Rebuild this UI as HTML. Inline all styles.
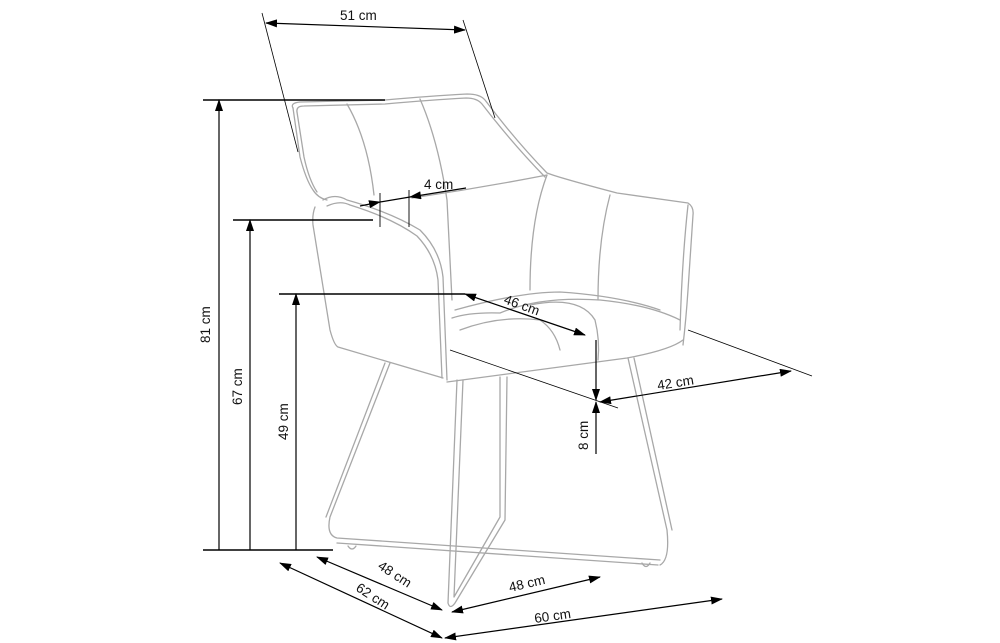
<!DOCTYPE html>
<html><head><meta charset="utf-8"><style>
html,body{margin:0;padding:0;background:#fff;}
svg{display:block;}
text{font-family:"Liberation Sans",sans-serif;font-size:13.5px;fill:#111;}
</style></head><body>
<svg width="1000" height="643" viewBox="0 0 1000 643" xmlns="http://www.w3.org/2000/svg">
<defs>
<marker id="a" markerWidth="12" markerHeight="8" refX="11" refY="4" orient="auto-start-reverse" markerUnits="userSpaceOnUse">
<path d="M0,0 L12,4 L0,8 Z" fill="#000"/></marker>
</defs>
<g fill="none" stroke="#a8a8a8" stroke-width="1.3" stroke-linecap="round" stroke-linejoin="round">
<path d="M293,108 Q290,103 300,102 L385,100 Q430,96 467,94 Q480,94 485,100 Q515,140 547,173 Q560,178 617,193 L688,203 Q694,207 693,215 L688,290 Q686,320 683,345"/>
<path d="M297,112 Q296,106 304,106 L385,104 Q430,100 466,98 Q477,98 482,104 Q512,143 545,177"/>
<path d="M293,108 L300,157 Q306,180 313,190 Q318,198 327,200"/>
<path d="M297,112 L304,157 Q309,180 317,192"/>
<path d="M347,104 Q368,140 374,195"/>
<path d="M420,99 Q438,140 447,200 L452,300"/>
<path d="M412,198 Q480,188 547,175"/>
<path d="M547,175 Q530,220 530,290"/>
<path d="M610,195 Q598,240 598,300"/>
<path d="M688,205 Q682,260 680,330"/>
<path d="M323,200 Q335,193 347,200 Q390,212 420,230 Q440,250 443,277 L447,380"/>
<path d="M327,206 Q340,200 350,205 Q392,218 417,236 Q435,255 438,280 L442,378"/>
<path d="M315,207 Q312,215 313,225 L330,330 Q334,345 338,347 L443,378"/>
<path d="M452,318 Q470,312 500,313 Q540,296 600,300 Q650,305 680,320"/>
<path d="M455,310 Q520,292 560,292 Q620,296 660,310"/>
<path d="M460,330 Q500,315 540,320 Q555,330 560,350"/>
<path d="M530,305 Q580,295 595,320 Q600,340 598,360"/>
<path d="M447,382 L627,358 Q670,350 683,340"/>
<path d="M390,363 L330,517 Q326,535 337,538 L660,560"/>
<path d="M385,363 L326,517"/>
<path d="M337,543 L658,565"/>
<path d="M628,358 L667,530 Q670,560 660,565"/>
<path d="M634,358 L672,530"/>
<path d="M457,380 L448,603 Q450,610 455,603 L505,520 L507,377"/>
<path d="M463,380 L454,597 L500,517 L500,377"/>
<path d="M348,546 Q352,552 356,546"/>
<path d="M642,563 Q646,570 650,563"/>
</g>
<g stroke="#000" stroke-width="1.2" fill="none">
<line x1="262" y1="13" x2="298" y2="152" stroke-width="0.8"/>
<line x1="463" y1="20" x2="495" y2="118" stroke-width="0.8"/>
<line x1="266" y1="23" x2="465" y2="30" marker-start="url(#a)" marker-end="url(#a)"/>
<line x1="203" y1="100" x2="385" y2="100" stroke-width="1.6"/>
<line x1="219" y1="550" x2="219" y2="100" marker-end="url(#a)"/>
<line x1="233" y1="220" x2="373" y2="220" stroke-width="1.4"/>
<line x1="250" y1="550" x2="250" y2="220" marker-end="url(#a)"/>
<line x1="279" y1="294" x2="465" y2="294" stroke-width="1.4"/>
<line x1="296" y1="550" x2="296" y2="294" marker-end="url(#a)"/>
<line x1="203" y1="550" x2="333" y2="550" stroke-width="1.4"/>
<line x1="380" y1="193" x2="380" y2="227" stroke-width="0.9"/>
<line x1="409" y1="190" x2="409" y2="227" stroke-width="0.9"/>
<line x1="360" y1="206" x2="380" y2="202" marker-end="url(#a)"/>
<line x1="466" y1="188" x2="410" y2="197" marker-end="url(#a)"/>
<line x1="380" y1="202" x2="410" y2="197"/>
<line x1="465" y1="294" x2="585" y2="335" marker-start="url(#a)" marker-end="url(#a)"/>
<line x1="596" y1="340" x2="596" y2="400" marker-end="url(#a)"/>
<line x1="596" y1="454" x2="596" y2="402" marker-end="url(#a)"/>
<line x1="450" y1="350" x2="618" y2="408" stroke-width="0.8"/>
<line x1="688" y1="330" x2="812" y2="376" stroke-width="0.8"/>
<line x1="600" y1="402" x2="791" y2="371" marker-start="url(#a)" marker-end="url(#a)"/>
<line x1="317" y1="557" x2="442" y2="610" marker-start="url(#a)" marker-end="url(#a)"/>
<line x1="280" y1="563" x2="442" y2="638" marker-start="url(#a)" marker-end="url(#a)"/>
<line x1="452" y1="612" x2="600" y2="577" marker-start="url(#a)" marker-end="url(#a)"/>
<line x1="445" y1="638" x2="722" y2="599" marker-start="url(#a)" marker-end="url(#a)"/>
</g>
<text x="340" y="20">51 cm</text>
<text x="424" y="189">4 cm</text>
<text transform="translate(210,343) rotate(-90)">81 cm</text>
<text transform="translate(242,405) rotate(-90)">67 cm</text>
<text transform="translate(288,440) rotate(-90)">49 cm</text>
<text transform="translate(588,450) rotate(-90)">8 cm</text>
<text transform="translate(503,303) rotate(20)">46 cm</text>
<text transform="translate(658,390) rotate(-9)">42 cm</text>
<text transform="translate(377,568) rotate(33)">48 cm</text>
<text transform="translate(355,590) rotate(33)">62 cm</text>
<text transform="translate(510,592) rotate(-13)">48 cm</text>
<text transform="translate(535,623) rotate(-8)">60 cm</text>
</svg>
</body></html>
